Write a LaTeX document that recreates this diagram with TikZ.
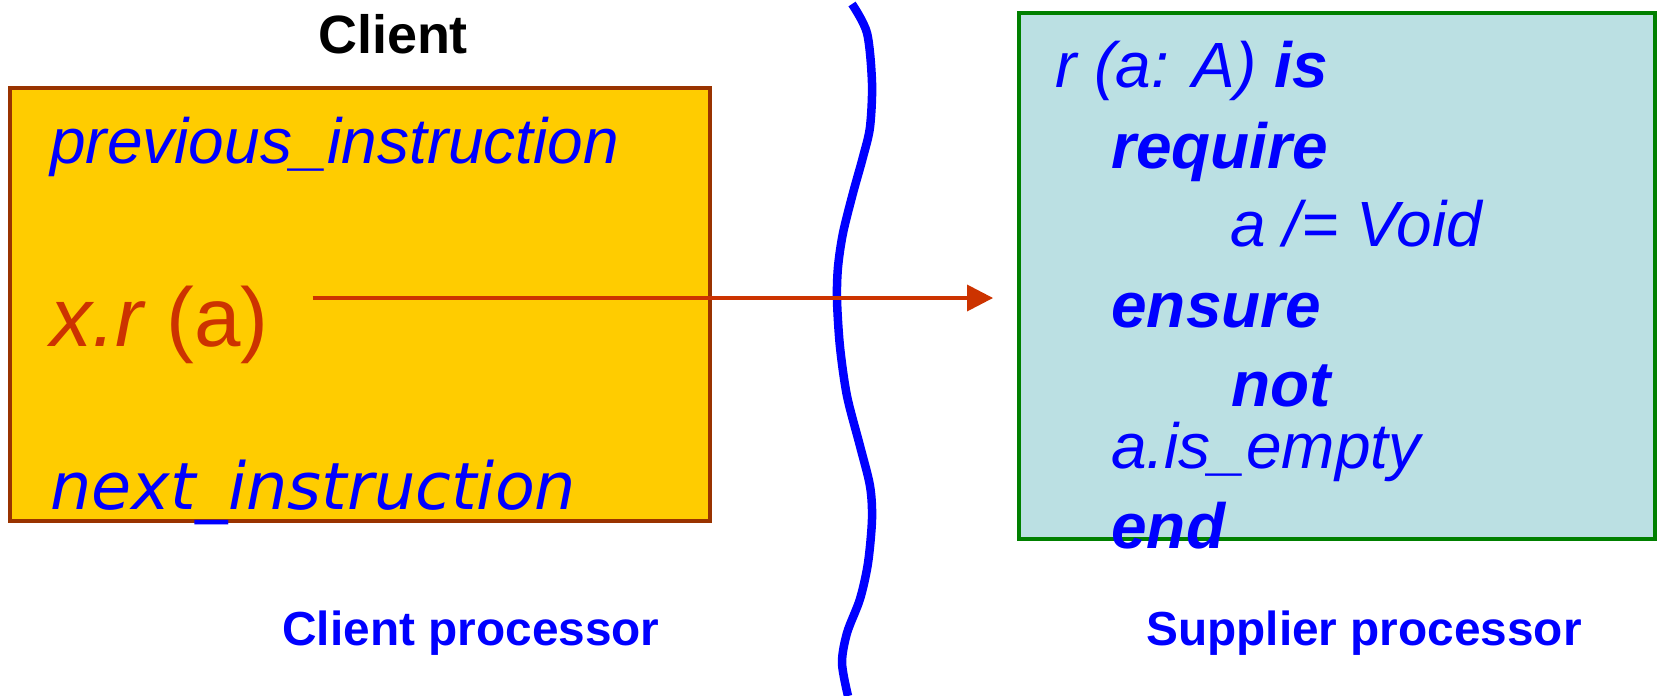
\documentclass[tikz,border=0pt]{standalone}
\usepackage{fontspec}
\setmainfont{Liberation Sans}
\newfontfamily\widefont{DejaVu Sans}
\usetikzlibrary{arrows.meta}

\definecolor{clientfill}{HTML}{FFCC00}
\definecolor{clientline}{HTML}{993300}
\definecolor{callred}{HTML}{CC3300}
\definecolor{supfill}{HTML}{BBE0E3}
\definecolor{supline}{HTML}{008000}

\begin{document}
\begin{tikzpicture}[x=0.02cm, y=-0.02cm,
    code/.style={anchor=base west, inner sep=0pt, text=blue,
      font=\fontsize{36.4}{40}\selectfont\itshape},
    kw/.style={code, font=\fontsize{36.4}{40}\selectfont\bfseries\itshape},
    caption/.style={anchor=base, inner sep=0pt, text=blue,
      font=\fontsize{27.2}{30}\selectfont\bfseries}]
  \useasboundingbox (0,0) rectangle (1659,696);

  % the two processors
  \node (cbox) at (360,304.5) [draw=clientline, line width=0.074cm, fill=clientfill,
    minimum width=13.99cm, minimum height=8.66cm, inner sep=0pt] {};
  \node (sbox) at (1337,276) [draw=supline, line width=0.08cm, fill=supfill,
    minimum width=12.72cm, minimum height=10.52cm, inner sep=0pt] {};

  \node (client) at (393,54) [anchor=base, inner sep=0pt,
    font=\fontsize{30.7}{34}\selectfont\bfseries] {Client};

  % client side
  \node (prev) at (50,163) [code] {previous\_instruction};
  \node (call) at (50,346) [code, text=callred,
    font=\fontsize{47.5}{52}\selectfont\itshape] {x.r \upshape(a)};
  \node (next) at (50,509) [code, font=\fontsize{37.1}{40}\selectfont\widefont\itshape]
    {next\_instruction};

  % supplier side
  \node (sig)  at (1055,87.5) [code] {r (a: A) \textbf{is}};
  \node (req)  at (1111,168)  [kw]   {require};
  \node (pre)  at (1230,246)  [code] {a /= Void};
  \node (ens)  at (1111,327)  [kw]   {ensure};
  \node (neg)  at (1231,406)  [kw]   {not};
  \node (post) at (1111,468)  [code] {a.is\_empty};
  \node (fin)  at (1111,548)  [kw]   {end};

  \node (clab) at (471,645)  [caption] {Client processor};
  \node (slab) at (1364,645) [caption] {Supplier processor};

  % separation between the processors
  \draw [blue, line width=0.17cm] plot [smooth] coordinates
    {(852,4) (867,33) (872,83) (870,127) (863,157) (853,193) (843,233)
     (838,267) (837,300) (840,347) (847,396) (860,446) (870,486)
     (872,519) (868,563) (860,599) (847,633) (842,663) (848,696)};

  % the call
  \coordinate (tip) at (992,298);
  \draw [callred, line width=0.07cm,
    -{Triangle[length=0.52cm, width=0.52cm]}]
    (call.east |- tip) -- (sbox.west |- tip)
    [shorten <=0.88cm, shorten >=0.48cm];
\end{tikzpicture}
\end{document}
